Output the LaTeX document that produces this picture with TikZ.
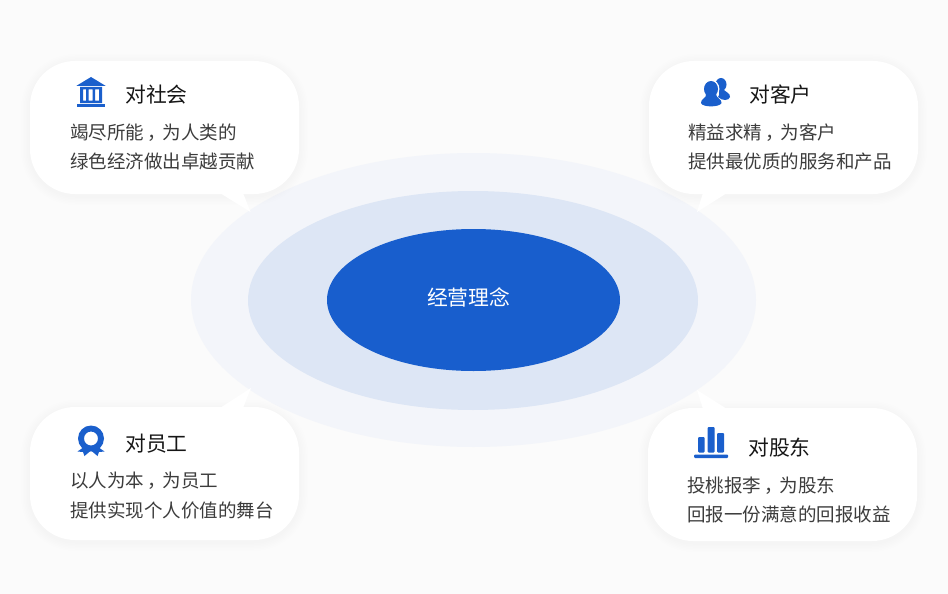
\documentclass[tikz,border=0pt]{standalone}
\usepackage{fontspec}
\setmainfont{Noto Sans CJK SC}
\usetikzlibrary{calc}
\definecolor{pagebg}{HTML}{FBFBFB}
\definecolor{ringa}{HTML}{F3F5FA}
\definecolor{ringb}{HTML}{DDE6F5}
\definecolor{core}{HTML}{185ECD}
\definecolor{icon}{HTML}{1A5FCC}
\definecolor{bodytext}{HTML}{3C3C3C}
\definecolor{titletext}{HTML}{161616}
\tikzset{
  x=1pt,y=-1pt,
  titlelabel/.style={anchor=west,inner sep=0pt,text=titletext,font=\fontsize{20.8}{24}\selectfont},
  bodylabel/.style={anchor=west,inner sep=0pt,text=bodytext,font=\fontsize{18.5}{22}\selectfont},
  iconfill/.style={fill=icon,draw=none},
}
\newcommand{\midcomma}{\hspace{.2em}，\hspace{-.2em}}
\newcommand{\softshadow}[2]{%
  \foreach \g in {9,7.5,6,4.5,3,1.5}{
    \fill[black,opacity=0.0035,rounded corners={45+\g}] ($(#1,#2)+(-\g,-\g+2)$) rectangle ($(#1,#2)+(269+\g,133+\g+2)$);
  }}
\newcommand{\bubblebody}[2]{\fill[white,rounded corners=45] (#1,#2) rectangle ++(269,133);}
\begin{document}
\begin{tikzpicture}
\useasboundingbox (0,0) rectangle (948,594);
\fill[pagebg] (0,0) rectangle (948,594);
% rings
\fill[ringa] (473.5,300) ellipse [x radius=282.5,y radius=147];
\fill[ringb] (473,300.5) ellipse [x radius=225,y radius=109.5];
\fill[core] (473.5,300) ellipse [x radius=146.5,y radius=71];
\node[inner sep=0pt,text=white,font=\fontsize{20.8}{24}\selectfont] (centre) at (468.7,297.5) {经营理念};
% shadows
\softshadow{30}{61}\softshadow{649}{61}\softshadow{30}{407}\softshadow{648}{408}
% bubbles
\bubblebody{30}{61}\bubblebody{649}{61}\bubblebody{30}{407}\bubblebody{648}{408}
\fill[white] (220,193) -- (250.5,212) -- (243,193) -- cycle;
\fill[white] (727,193) -- (697,212) -- (703,193) -- cycle;
\fill[white] (220,408) -- (251,388) -- (243,408) -- cycle;
\fill[white] (727,409) -- (697,390) -- (703,409) -- cycle;
% texts
\node[titlelabel] (tl) at (125,94.5) {对社会};
\node[bodylabel] (tla) at (70,132.2) {竭尽所能\midcomma 为人类的};
\node[bodylabel] (tlb) at (70,161.7) {绿色经济做出卓越贡献};
\node[titlelabel] (tr) at (749,94.5) {对客户};
\node[bodylabel] (tra) at (688,132.2) {精益求精\midcomma 为客户};
\node[bodylabel] (trb) at (688,161.7) {提供最优质的服务和产品};
\node[titlelabel] (bl) at (125,443.5) {对员工};
\node[bodylabel] (bla) at (70,481.2) {以人为本\midcomma 为员工};
\node[bodylabel] (blb) at (70,510.7) {提供实现个人价值的舞台};
\node[titlelabel] (br) at (748,447.5) {对股东};
\node[bodylabel] (bra) at (687,485.2) {投桃报李\midcomma 为股东};
\node[bodylabel] (brb) at (687,514.7) {回报一份满意的回报收益};
% bank icon
\fill[iconfill] (91,77) -- (105.5,85.8) -- (76.5,85.8) -- cycle;
\fill[iconfill,even odd rule] (80,87) rectangle (102,103)
  (83,89.5) rectangle (86,100.5) (88.7,89.5) rectangle (92.5,100.5) (95.2,89.5) rectangle (99,100.5);
\fill[iconfill] (77,103.5) rectangle (105,107);
% people icon
\fill[iconfill] (721,84.5) circle [x radius=5.5,y radius=6.5];
\fill[iconfill] (723,88) .. controls (724,92) and (731,93) .. (730,97) .. controls (729,101) and (722,101) .. (718,97) .. controls (720,95) and (719,91) .. (718,88) -- cycle;
\fill[white] (711,89) circle [x radius=8.4,y radius=9.4];
\fill[iconfill] (711,89) circle [x radius=7,y radius=8];
\fill[iconfill] (706,94) .. controls (707,98) and (700.5,99) .. (701,103) .. controls (702,107.5) and (720,107.5) .. (721.5,103) .. controls (722,99) and (716,98) .. (716,94) -- cycle;
% award icon
\fill[iconfill] (84,447) -- (77.5,451.5) -- (83,452) -- (84.5,456) -- (91,450.5) -- (97.5,456) -- (99,452) -- (104.5,451.5) -- (98,447) -- cycle;
\fill[iconfill,even odd rule] (91,438.5) circle [radius=13] (91,438.5) circle [radius=7];
% bars icon
\fill[iconfill,rounded corners=1] (698,437) rectangle (704.5,452.5);
\fill[iconfill,rounded corners=1] (707.5,427) rectangle (714.5,452.5);
\fill[iconfill,rounded corners=1] (717,433) rectangle (724,452.5);
\fill[iconfill,rounded corners=1] (694,454.5) rectangle (728,458);
\end{tikzpicture}
\end{document}
